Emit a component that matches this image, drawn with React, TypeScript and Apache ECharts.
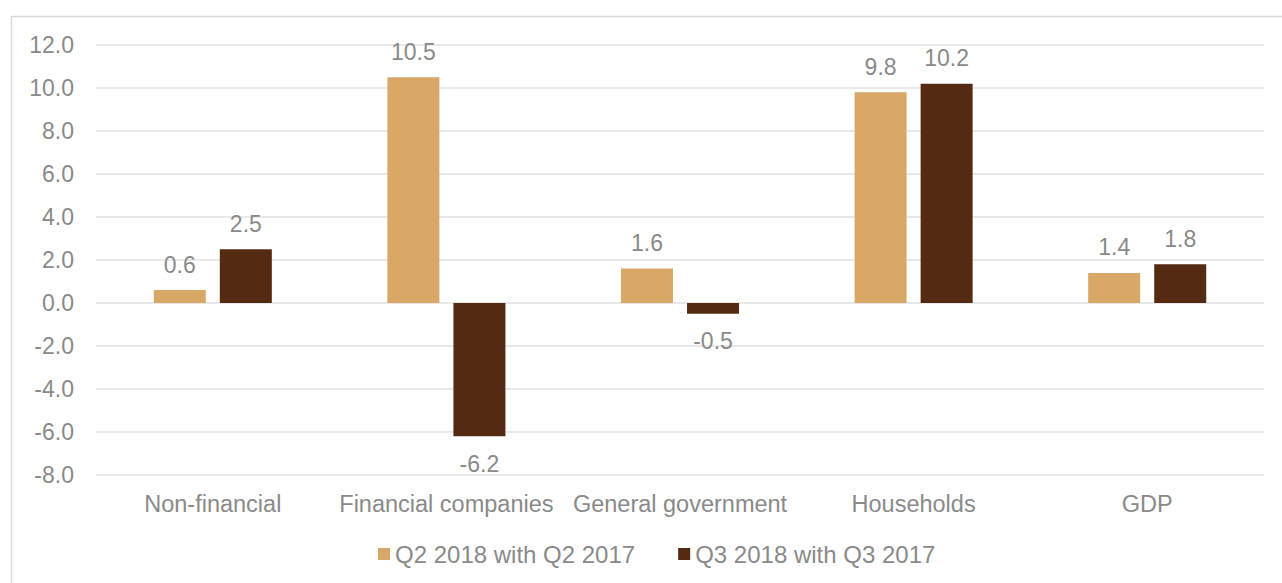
import React, { useEffect, useRef } from "react";
import * as echarts from "echarts";

const categories = ["Non-financial", "Financial companies", "General government", "Households", "GDP"];
const seriesNames = ["Q2 2018 with Q2 2017", "Q3 2018 with Q3 2017"];
const q2Values = [0.6, 10.5, 1.6, 9.8, 1.4];
const q3Values = [2.5, -6.2, -0.5, 10.2, 1.8];
const colors = ["#D9A766", "#542A12"];
const textColor = "#8A8A8A";
const font = "'Liberation Sans', Arial, sans-serif";

function makeData(vals: number[]) {
  return vals.map((v) => ({
    value: v,
    label: {
      position: v < 0 ? "bottom" : "top",
      distance: v < 0 ? 16 : 14,
    },
  }));
}

export default function App() {
  const ref = useRef<HTMLDivElement>(null);
  useEffect(() => {
    const chart = echarts.init(ref.current!, null, { renderer: "svg" });
    const labelCommon = {
      show: true,
      color: textColor,
      fontSize: 23,
      fontFamily: font,
      formatter: (p: any) => Number(p.value).toFixed(1),
    };
    chart.setOption({
      animation: false,
      backgroundColor: "#ffffff",
      textStyle: { fontFamily: font },
      graphic: [
        {
          type: "rect",
          shape: { x: 11.5, y: 16.5, width: 1300, height: 600 },
          style: { fill: "none", stroke: "#D9D9D9", lineWidth: 1.5 },
          silent: true,
          z: -1,
        },
      ],
      grid: { left: 96, right: 18, top: 45, bottom: 108, containLabel: false },
      legend: {
        data: seriesNames,
        left: 373,
        top: 537,
        itemWidth: 12,
        itemHeight: 12,
        itemGap: 43,
        icon: "rect",
        textStyle: { color: textColor, fontSize: 24, fontFamily: font },
      },
      xAxis: {
        type: "category",
        data: categories,
        axisLine: { show: false, onZero: false },
        axisTick: { show: false },
        axisLabel: { color: textColor, fontSize: 23.5, fontFamily: font, margin: 17, interval: 0 },
      },
      yAxis: {
        type: "value",
        min: -8,
        max: 12,
        interval: 2,
        axisLine: { show: false },
        axisTick: { show: false },
        splitLine: { lineStyle: { color: "#E0E0E0", width: 1.5 } },
        axisLabel: {
          color: textColor,
          fontSize: 23,
          fontFamily: font,
          margin: 22,
          formatter: (v: number) => v.toFixed(1),
        },
      },
      series: [
        {
          name: seriesNames[0],
          type: "bar",
          data: makeData(q2Values),
          itemStyle: { color: colors[0] },
          barWidth: 52,
          barGap: "27%",
          label: labelCommon,
        },
        {
          name: seriesNames[1],
          type: "bar",
          data: makeData(q3Values),
          itemStyle: { color: colors[1] },
          barWidth: 52,
          barGap: "27%",
          label: labelCommon,
        },
      ],
    });
    return () => chart.dispose();
  }, []);
  return (
    <div
      ref={ref}
      style={{ position: "fixed", left: 0, top: 0, width: 1282, height: 583 }}
    />
  );
}
